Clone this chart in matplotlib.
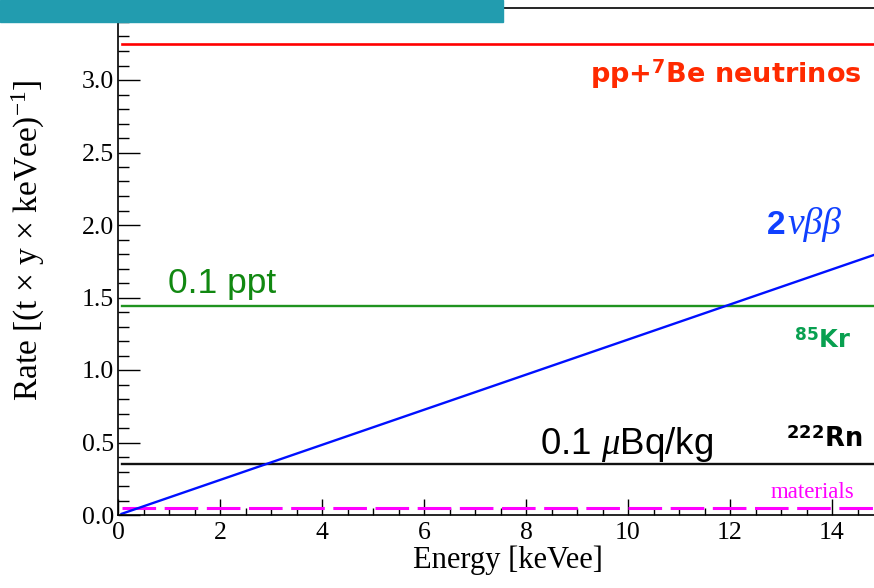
import matplotlib
matplotlib.use("Agg")
import matplotlib.pyplot as plt
from matplotlib.patches import Rectangle
from matplotlib.ticker import MultipleLocator, FormatStrFormatter

plt.rcParams['mathtext.fontset'] = 'custom'
plt.rcParams['mathtext.rm'] = 'Liberation Serif'
plt.rcParams['mathtext.it'] = 'Liberation Serif:italic'
plt.rcParams['mathtext.bf'] = 'DejaVu Sans:bold'
plt.rcParams['mathtext.sf'] = 'Liberation Sans'

# background rates vs energy
energy = [0.08, 15.0]
pp_be7 = [3.25, 3.25]
kr85 = [1.44, 1.44]
rn222 = [0.35, 0.35]
materials = [0.05, 0.05]
energy_2nbb = [0.07, 15.0]
two_nu_bb = [0.008, 1.815]

x_ticks = [0, 2, 4, 6, 8, 10, 12, 14]
y_ticks = [0.0, 0.5, 1.0, 1.5, 2.0, 2.5, 3.0]

fig = plt.figure(figsize=(8.74, 5.88), dpi=100)
# axes runs past the right edge of the figure, as in the reference
ax = fig.add_axes([118 / 874, 73 / 588, 765 / 874, 507.5 / 588])

ax.plot(energy, pp_be7, color='#FF0000', lw=1.9)
ax.plot(energy, kr85, color='#1F931F', lw=1.7)
ax.plot(energy, rn222, color='#111111', lw=1.7)
ax.plot(energy, materials, color='#FF00FF', lw=2.2, dashes=(11, 2.8))
ax.plot(energy_2nbb, two_nu_bb, color='#0010FF', lw=1.7)

ax.set_xlim(0, 15)
ax.set_ylim(0, 3.5)
ax.set_xticks(x_ticks)
ax.set_yticks(y_ticks)
ax.xaxis.set_minor_locator(MultipleLocator(0.5))
ax.yaxis.set_minor_locator(MultipleLocator(0.1))
ax.yaxis.set_major_formatter(FormatStrFormatter('%.1f'))

for lab in ax.get_xticklabels() + ax.get_yticklabels():
    lab.set_fontfamily('Liberation Serif')
    lab.set_fontsize(18.5)

ax.tick_params(axis='y', which='major', direction='in', length=15.8, width=1.0, pad=3)
ax.tick_params(axis='y', which='minor', direction='in', length=7.7, width=1.0)
ax.tick_params(axis='x', which='major', direction='in', length=11.3, width=1.0, pad=5)
ax.tick_params(axis='x', which='minor', direction='in', length=4.8, width=1.0)

for side in ['left', 'bottom', 'top', 'right']:
    ax.spines[side].set_linewidth(1.2)

ax.set_xlabel('Energy [keVee]', fontfamily='Liberation Serif', fontsize=22)
ax.xaxis.set_label_coords(0.51, -0.1044)
ax.xaxis.label.set_va('baseline')
ax.set_ylabel(r'Rate [(t $\times$ y $\times$ keVee)$^{-1}$]',
              fontfamily='Liberation Serif', fontsize=24, va='center')
ax.yaxis.set_label_coords(-0.117, 0.542)

# labels
ax.text(14.59, 2.977, r'pp+$^{\mathbf{7}}$Be neutrinos', color='#FF2A00',
        fontfamily='DejaVu Sans', fontweight='bold', fontsize=19.5,
        ha='right', va='baseline')
ax.text(12.73, 1.938, '2', color='#1040FF', fontfamily='Liberation Sans',
        fontweight='bold', fontsize=24, ha='left', va='baseline')
ax.text(13.12, 1.938, 'νββ', color='#1040FF', fontfamily='Liberation Serif',
        fontstyle='italic', fontsize=27, ha='left', va='baseline')
ax.text(0.98, 1.531, '0.1 ppt', color='#118811',
        fontfamily='Liberation Sans', fontsize=25.5, ha='left', va='baseline')
ax.text(14.37, 1.145, r'$^{\mathbf{85}}$Kr', color='#08A050',
        fontfamily='DejaVu Sans', fontweight='bold', fontsize=17.5,
        ha='right', va='baseline')
ax.text(8.27, 0.421, r'0.1 $\mu$Bq/kg', color='black',
        fontfamily='Liberation Sans', fontsize=26.5, ha='left', va='baseline')
ax.text(14.59, 0.469, r'$^{\mathbf{222}}$Rn', color='black',
        fontfamily='DejaVu Sans', fontweight='bold', fontsize=18.5,
        ha='right', va='baseline')
ax.text(12.8, 0.117, 'materials', color='#FF00FF',
        fontfamily='Liberation Serif', fontsize=16.5, ha='left', va='baseline')

# slide header band
fig.add_artist(Rectangle((0, 1 - 22 / 588), 503 / 874, 22 / 588,
                         transform=fig.transFigure, color='#229CAF', zorder=10))

fig.savefig('out.png', dpi=100)
